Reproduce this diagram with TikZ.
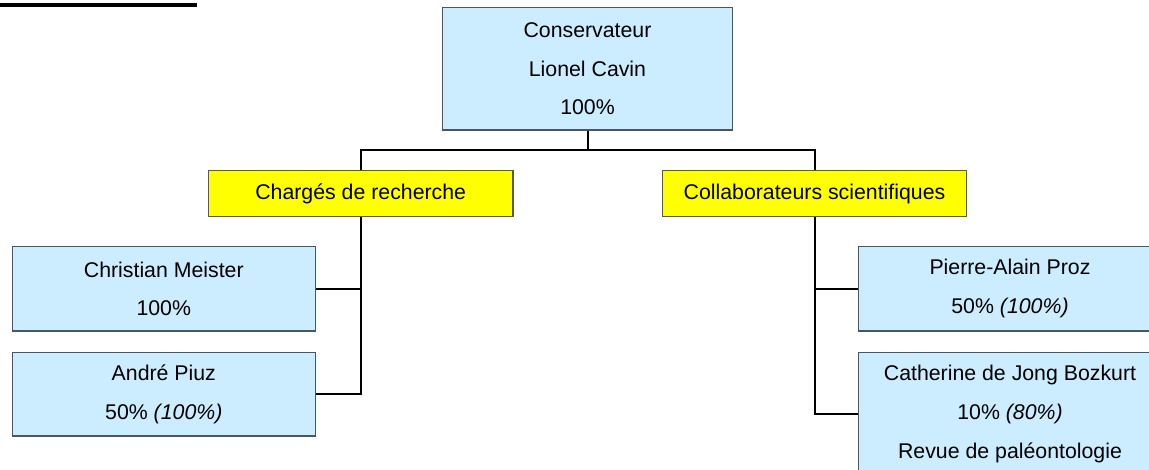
\documentclass[tikz,border=0pt]{standalone}
\usepackage{fontspec}
\setmainfont{Liberation Sans}
\definecolor{boxblue}{HTML}{CCECFF}
\definecolor{boxline}{HTML}{4A5560}
\definecolor{hdryellow}{HTML}{FFFF00}
\definecolor{hdrline}{HTML}{5C5C3A}
\tikzset{
  person/.style={draw=boxline, fill=boxblue, line width=1.2pt, align=center, inner sep=0pt,
    font=\fontsize{21.3}{38.7}\selectfont},
  header/.style={draw=hdrline, fill=hdryellow, line width=1.2pt, align=center, inner sep=0pt,
    minimum width=304.7pt, minimum height=46pt, font=\fontsize{21.3}{25}\selectfont},
  conn/.style={draw=black, line width=2pt}
}
\begin{document}
\begin{tikzpicture}[x=1pt,y=-1pt]
\useasboundingbox (0,0) rectangle (1149,470);
\clip (0,0) rectangle (1149,470);
% title underline (text cut off at top edge)
\fill[black] (0,3) rectangle (196.7,6.7);
% nodes
\node[person, minimum width=289.6pt, minimum height=122.7pt] (top) at (587.5,68.7)
  {Conservateur\\Lionel Cavin\\100\%};
\node[header] (chl) at (360.7,193.7) {Chargés de recherche};
\node[header] (crs) at (814.5,193.7) {Collaborateurs scientifiques};
\node[person, minimum width=303pt, minimum height=84.3pt] (cm) at (163.8,288.8)
  {Christian Meister\\100\%};
\node[person, minimum width=303pt, minimum height=83.7pt] (ap) at (163.8,394.2)
  {André Piuz\\50\% \textit{(100\%)}};
\node[person, minimum width=302.6pt, minimum height=84.3pt] (pp) at (1010,288.8)
  {Pierre-Alain Proz\\50\% \textit{(100\%)}};
\node[person, minimum width=302.6pt, minimum height=123.4pt] (cj) at (1010,414)
  {Catherine de Jong Bozkurt\\10\% \textit{(80\%)}\\Revue de paléontologie};
% connectors
\coordinate (bus) at (587.5,150.3);
\draw[conn] (top.south) -- (bus);
\draw[conn] (chl.north) |- (bus) -| (crs.north);
\draw[conn] (chl.south) |- (cm.east);
\draw[conn] (chl.south) |- (ap.east);
\draw[conn] (crs.south) |- (pp.west);
\draw[conn] (crs.south) |- (cj.west);
% redraw boxes over connector ends
\end{tikzpicture}
\end{document}
